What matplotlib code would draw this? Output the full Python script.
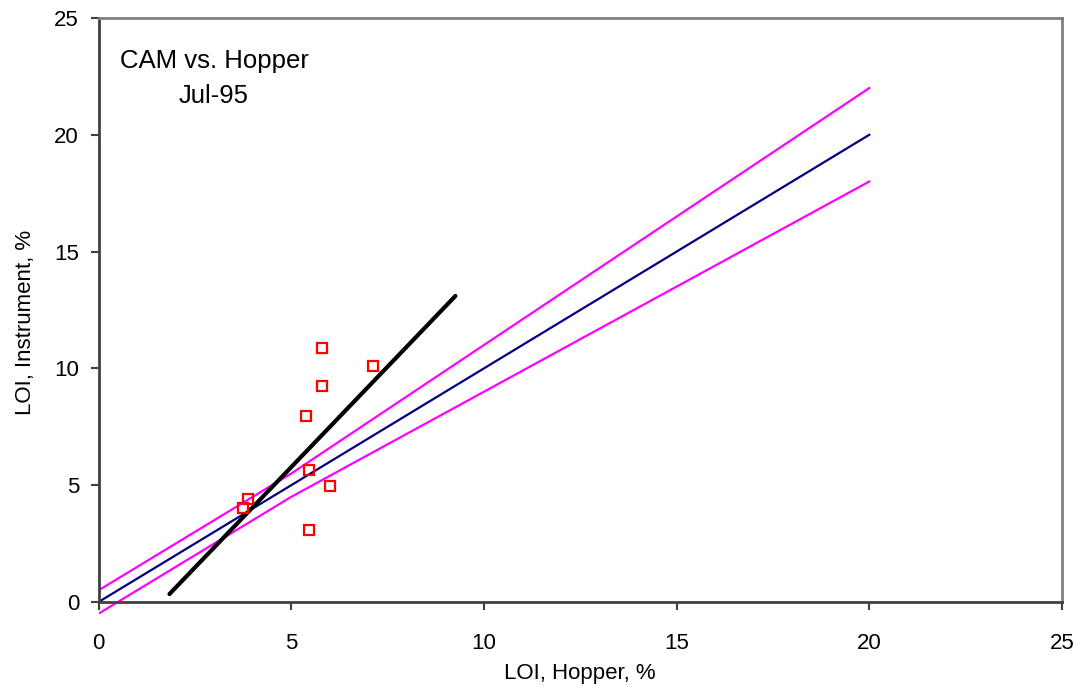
import matplotlib
matplotlib.use('Agg')
import matplotlib.pyplot as plt
from matplotlib.patches import Rectangle
import numpy as np

plt.rcParams['font.family'] = ['Liberation Sans', 'DejaVu Sans']

# Reference line (1:1) and its +/- tolerance band (0.5 or 10 %, whichever is larger)
ref_x = np.arange(0, 21)
ref_mid = [0, 1, 2, 3, 4, 5, 6, 7, 8, 9, 10, 11, 12, 13, 14, 15, 16, 17, 18, 19, 20]
ref_upper = [0.5, 1.5, 2.5, 3.5, 4.5, 5.5, 6.6, 7.7, 8.8, 9.9, 11.0,
             12.1, 13.2, 14.3, 15.4, 16.5, 17.6, 18.7, 19.8, 20.9, 22.0]
ref_lower = [-0.5, 0.5, 1.5, 2.5, 3.5, 4.5, 5.4, 6.3, 7.2, 8.1, 9.0,
             9.9, 10.8, 11.7, 12.6, 13.5, 14.4, 15.3, 16.2, 17.1, 18.0]

# Monthly samples: hopper LOI vs instrument LOI
hopper = [5.79, 7.13, 5.79, 5.38, 5.47, 6.01, 3.87, 3.74, 5.47]
instrument = [10.89, 10.12, 9.26, 7.98, 5.66, 4.98, 4.41, 4.04, 3.10]

# Trend line through the samples
trend_x = [1.84, 9.26]
trend_y = [0.34, 13.1]

fig = plt.figure(figsize=(10.83, 6.91), dpi=100)
ax = fig.add_axes([0.091, 0.1288, 0.8896, 0.8452])

# let the band spill a few pixels under the x axis
clip = Rectangle((0, -0.02), 1, 1.02, transform=ax.transAxes)

for ys in (ref_upper, ref_lower):
    ln, = ax.plot(ref_x, ys, color='#FF00FF', lw=1.6)
    ln.set_clip_path(clip)
ax.plot(ref_x, ref_mid, color='#000080', lw=1.6)

ax.plot(trend_x, trend_y, color='black', lw=3, solid_capstyle='round')

ax.plot(hopper, instrument, linestyle='none', marker='s', markersize=7.5,
        markerfacecolor='none', markeredgecolor='#FF0000', markeredgewidth=1.6)

ax.set_xlim(0, 25)
ax.set_ylim(0, 25)
ax.set_xticks(range(0, 26, 5))
ax.set_yticks(range(0, 26, 5))

ax.set_xlabel('LOI, Hopper, %', fontsize=16, labelpad=7)
ax.set_ylabel('LOI, Instrument, %', fontsize=16, labelpad=13, y=0.478)

ax.tick_params(axis='both', direction='out', length=6, width=1.5,
               color='#404040', labelsize=16)
ax.tick_params(axis='x', pad=16)
ax.tick_params(axis='y', pad=8)

for side in ('left', 'bottom'):
    ax.spines[side].set_color('#404040')
    ax.spines[side].set_linewidth(2)
for side in ('top', 'right'):
    ax.spines[side].set_color('#808080')
    ax.spines[side].set_linewidth(2)

ax.text(0.0223, 0.9144, 'CAM vs. Hopper', transform=ax.transAxes, fontsize=18.5,
        ha='left', va='baseline')
ax.text(0.0835, 0.8545, 'Jul-95', transform=ax.transAxes, fontsize=18.5,
        ha='left', va='baseline')

fig.savefig('out.png', dpi=100)
